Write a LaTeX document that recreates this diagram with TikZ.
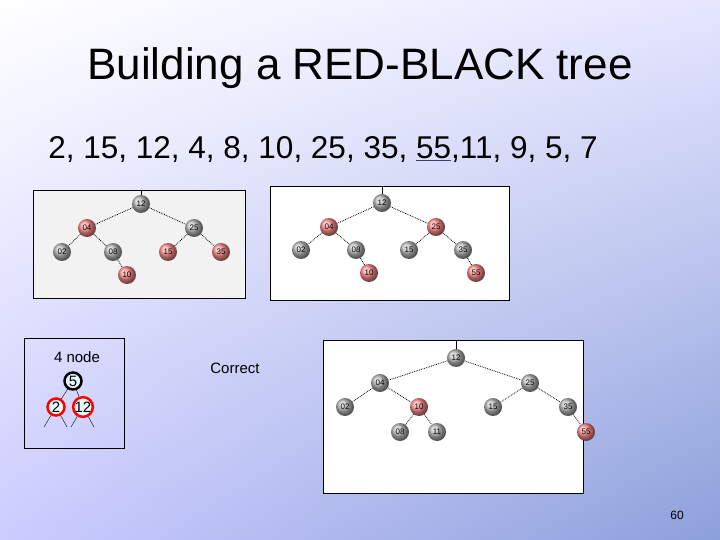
\documentclass[tikz,border=0pt]{standalone}
\usepackage{fontspec}
\setmainfont{Liberation Sans}
\usetikzlibrary{shadings}
\definecolor{bgbr}{RGB}{140,160,218}
\definecolor{ulc}{RGB}{60,60,110}
\begin{document}
\begin{tikzpicture}[x=1pt,y=-1pt,
 blk/.style={circle,minimum size=18pt,inner sep=0pt,shading=ball,ball color=gray!55,font=\fontsize{8}{8}\selectfont},
 rd/.style={circle,minimum size=18pt,inner sep=0pt,shading=ball,ball color=red!45!white,font=\fontsize{8}{8}\selectfont},
 ed/.style={densely dotted,line width=0.8pt},
 pic/.style={draw=black,line width=0.8pt}]
\useasboundingbox (0,0) rectangle (720,540);
\shade[upper left=white,upper right=blue!10!white,lower left=blue!20!white,lower right=bgbr] (0,0) rectangle (720,540);
\node (title) at (360,68) {\fontsize{44}{44}\selectfont Building a RED-BLACK tree};
\node (seq) at (323,150) {\fontsize{31.5}{32}\selectfont 2, 15, 12, 4, 8, 10, 25, 35, {\color{ulc}\underline{\color{black}55}},11, 9, 5, 7};
% image 1
\draw[pic,fill=black!5] (33,190) rectangle (245,298);
\node[blk] (a12) at (141,204) {12};
\node[rd] (a04) at (87,228) {04};
\node[blk] (a25) at (194,228) {25};
\node[blk] (a02) at (62,252) {02};
\node[blk] (a08) at (113,252) {08};
\node[rd] (a15) at (168,252) {15};
\node[rd] (a35) at (221,252) {35};
\node[rd] (a10) at (127,275) {10};
\coordinate (at) at (141,190);
\draw (at) -- (a12);
\foreach \u/\v in {a12/a04,a12/a25,a04/a02,a04/a08,a25/a15,a25/a35,a08/a10} \draw[ed] (\u) -- (\v);
% image 2
\draw[pic,fill=white] (270,186) rectangle (509,300);
\node[blk] (b12) at (382,203) {12};
\node[rd] (b04) at (329,227) {04};
\node[rd] (b25) at (436,227) {25};
\node[blk] (b02) at (301,250) {02};
\node[blk] (b08) at (356,250) {08};
\node[blk] (b15) at (409,250) {15};
\node[blk] (b35) at (463,250) {35};
\node[rd] (b10) at (369,273) {10};
\node[rd] (b55) at (476,273) {55};
\coordinate (bt) at (382,186);
\draw (bt) -- (b12);
\foreach \u/\v in {b12/b04,b12/b25,b04/b02,b04/b08,b25/b15,b25/b35,b08/b10,b35/b55} \draw[ed] (\u) -- (\v);
% image 3
\draw[pic,fill=white] (323,340) rectangle (583,493);
\node[blk] (c12) at (456,358) {12};
\node[blk] (c04) at (380,383) {04};
\node[blk] (c25) at (530,383) {25};
\node[blk] (c02) at (345,407) {02};
\node[rd] (c10) at (419,407) {10};
\node[blk] (c15) at (493,407) {15};
\node[blk] (c35) at (568,407) {35};
\node[blk] (c08) at (400,432) {08};
\node[blk] (c11) at (437,432) {11};
\node[rd] (c55) at (586,432) {55};
\coordinate (ct) at (456,340);
\draw (ct) -- (c12);
\foreach \u/\v in {c12/c04,c12/c25,c04/c02,c04/c10,c25/c15,c25/c35,c10/c08,c10/c11,c35/c55} \draw[ed] (\u) -- (\v);
% 4 node box
\draw[pic] (24,338) rectangle (124,448);
\node (four) at (77,357) {\fontsize{15}{15}\selectfont 4 node};
\node[circle,draw=black,line width=2.5pt,fill=cyan!10,minimum size=17pt,inner sep=0pt] (n5) at (73,381) {\fontsize{15}{15}\selectfont 5};
\node[circle,draw=red,line width=2.5pt,fill=cyan!10,minimum size=17pt,inner sep=0pt] (n2) at (56,407) {\fontsize{15}{15}\selectfont 2};
\node[circle,draw=red,line width=2.5pt,fill=cyan!10,minimum size=17pt,inner sep=0pt] (n12) at (83,407) {\fontsize{15}{15}\selectfont 12};
\draw (n5) -- (n2); \draw (n5) -- (n12);
\coordinate (l1) at (44,427); \coordinate (l2) at (67,427);
\coordinate (l3) at (71,427); \coordinate (l4) at (94,427);
\draw (n2) -- (l1); \draw (n2) -- (l2); \draw (n12) -- (l3); \draw (n12) -- (l4);
\node (corr) at (235,368) {\fontsize{15}{15}\selectfont Correct};
\node (pg) at (677,515) {\fontsize{12}{12}\selectfont 60};
\end{tikzpicture}
\end{document}
